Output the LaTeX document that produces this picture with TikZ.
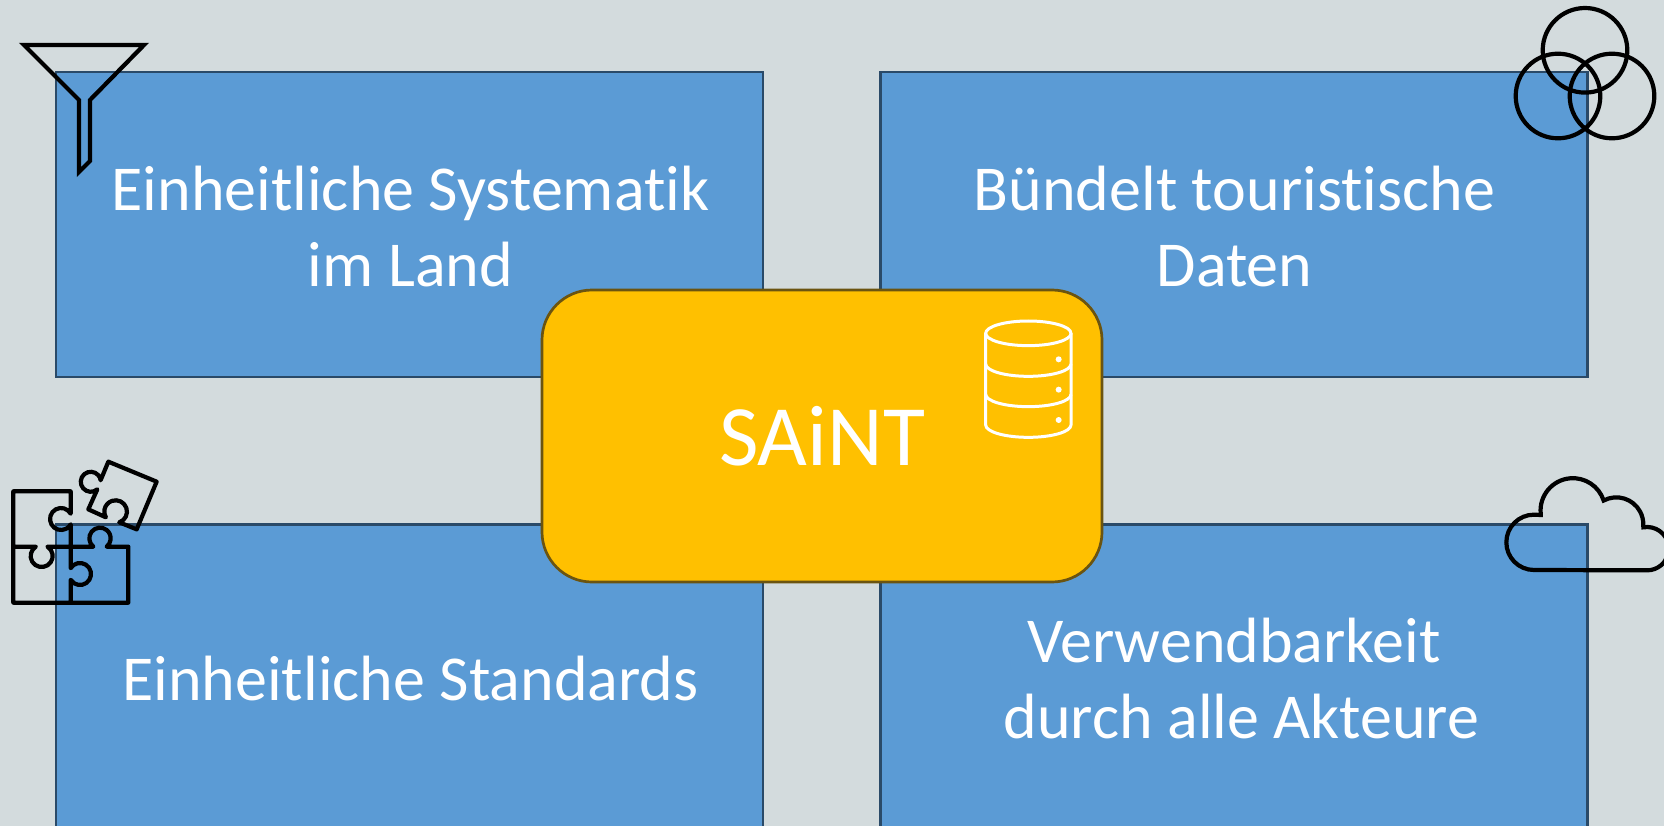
\documentclass[tikz,border=0pt]{standalone}
\usepackage{fontspec}
\setmainfont[Ligatures=NoCommon]{Carlito}
\definecolor{bgc}{HTML}{D3DBDD}
\definecolor{boxc}{HTML}{5B9BD5}
\definecolor{boxl}{HTML}{2A4A68}
\definecolor{goldc}{HTML}{FFC000}
\definecolor{goldl}{HTML}{6B5410}
\tikzset{
  panel/.style={draw=boxl,line width=2.7pt,fill=boxc,text=white,inner sep=0pt,align=center,minimum width=707pt,minimum height=305pt,font=\fontsize{64}{76}\selectfont},
  lowpanel/.style={panel,minimum height=309pt},
  hub/.style={draw=goldl,line width=2.7pt,fill=goldc,text=white,inner sep=0pt,rounded corners=50pt,minimum width=560pt,minimum height=292pt,font=\fontsize{86}{100}\selectfont},
  icon/.style={draw=black,line width=4.2pt},
  iconw/.style={draw=white,line width=3pt},
  zoomed/.style={x=0.33333pt,y=-0.33333pt}
}
\begin{document}
\begin{tikzpicture}[x=1pt,y=-1pt]
\useasboundingbox (0,0) rectangle (1664,826);
\clip (0,0) rectangle (1664,826);
\fill[bgc] (0,0) rectangle (1664,826);
\node[panel] (tl) at (409.5,224.5) {\rule{0pt}{48pt}\hspace*{2pt}Einheitliche Systematik\\\hspace*{2pt}im Land};
\node[panel] (tr) at (1234,224.5) {\rule{0pt}{48pt}\hspace*{1pt}Bündelt touristische\\\hspace*{1pt}Daten};
\node[lowpanel] (bl) at (409.5,679) {\hspace*{2pt}Einheitliche Standards};
\node[lowpanel] (br) at (1234,679) {Verwendbarkeit\\\hspace*{15pt}durch alle Akteure};
\node[hub] (saint) at (822,436) {\raisebox{-2.5pt}{SAiNT}};
% funnel
\draw[icon,line join=miter,miter limit=10] (24,45) -- (144,45) -- (90,100) -- (90,161) -- (79,172) -- (79,100) -- cycle;
% circles
\draw[icon] (1585,50.3) circle[radius=42.3];
\draw[icon] (1558,96) circle[radius=42.3];
\draw[icon] (1612,96) circle[radius=42.3];
% puzzle
\begin{scope}[zoomed,shift={(0pt,-450pt)}]
\draw[icon,line join=round] (40,290) -- (107.5,290) arc[start angle=238,end angle=-58,radius=33] -- (280,290)
  arc[start angle=128.7,end angle=411.3,radius=32] -- (385,290) -- (385,458) -- (40,458) -- (40,124) -- (212,124) -- (212,191)
  arc[start angle=331,end angle=29,radius=33] -- (212,354.5) arc[start angle=212,end angle=508,radius=33] -- (212,458);
\draw[icon,line join=round] (325,35) -- (470,95) -- (410,238) -- (358,217)
  arc[start angle=71,end angle=-210,radius=34] -- (265,178) -- (292,118)
  arc[start angle=49,end angle=351,radius=30] -- cycle;
\end{scope}
% cloud
\begin{scope}[zoomed,shift={(1484pt,-460pt)}]
\draw[icon,line join=miter] (150,330) arc[start angle=90,end angle=270,radius=83] -- (170,165) -- (170,160)
  arc[start angle=175,end angle=342,radius=97] arc[start angle=242,end angle=360,radius=81] -- (478,202)
  arc[start angle=260,end angle=450,radius=65] -- cycle;
\end{scope}
% database
\begin{scope}[zoomed,shift={(960pt,-280pt)}]
\draw[iconw] (205,160) ellipse[x radius=128,y radius=37];
\draw[iconw,line join=round] (77,160) -- (77,435) arc[start angle=180,end angle=0,x radius=128,y radius=37] -- (333,160);
\draw[iconw] (77,252) arc[start angle=180,end angle=0,x radius=128,y radius=37];
\draw[iconw] (77,343) arc[start angle=180,end angle=0,x radius=128,y radius=37];
\fill[white] (296,238) circle[radius=9] (296,329) circle[radius=9] (296,420) circle[radius=9];
\end{scope}
\end{tikzpicture}
\end{document}
